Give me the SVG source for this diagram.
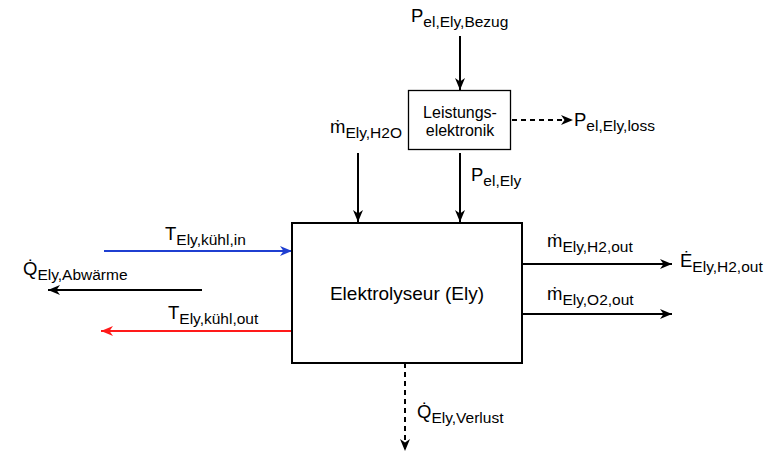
<svg xmlns="http://www.w3.org/2000/svg" width="765" height="463" viewBox="0 0 765 463">
<style>
text{font-family:"Liberation Sans",Arial,"DejaVu Sans",sans-serif;fill:#000}
.lbl{font-size:18.5px}
.sub{font-size:15.5px}
.box{fill:#fff;stroke:#000}
.c{fill:none;stroke-width:2}
.k{stroke:#000}
.dash{stroke-dasharray:5 4}
</style>
<defs>
<marker id="ak" markerUnits="userSpaceOnUse" markerWidth="13" markerHeight="12" viewBox="0 0 13 12" refX="12" refY="6" orient="auto"><path d="M0,1 L12,6 L0,11 L3.5,6 z" fill="#000"/></marker>
<marker id="ab" markerUnits="userSpaceOnUse" markerWidth="13" markerHeight="12" viewBox="0 0 13 12" refX="12" refY="6" orient="auto"><path d="M0,1 L12,6 L0,11 L3.5,6 z" fill="#1f3fd1"/></marker>
<marker id="ar" markerUnits="userSpaceOnUse" markerWidth="13" markerHeight="12" viewBox="0 0 13 12" refX="12" refY="6" orient="auto"><path d="M0,1 L12,6 L0,11 L3.5,6 z" fill="#ff1a1a"/></marker>
</defs>
<g id="connectors">
<path class="c k" d="M460,36 V90" marker-end="url(#ak)"/>
<path class="c k dash" d="M512,120 H573" marker-end="url(#ak)"/>
<path class="c k" d="M358,153 V222" marker-end="url(#ak)"/>
<path class="c k" d="M460,153 V222" marker-end="url(#ak)"/>
<path class="c" stroke="#1f3fd1" d="M104,251 H292" marker-end="url(#ab)"/>
<path class="c k" d="M202,290 H48" marker-end="url(#ak)"/>
<path class="c" stroke="#ff1a1a" d="M292,331 H101" marker-end="url(#ar)"/>
<path class="c k" d="M522,264 H672" marker-end="url(#ak)"/>
<path class="c k" d="M522,314 H672" marker-end="url(#ak)"/>
<path class="c k dash" d="M405,363 V451" marker-end="url(#ak)"/>
</g>
<g id="elektrolyseur">
<rect class="box" x="292" y="223" width="230" height="140" stroke-width="2"/>
<text x="407" y="300" text-anchor="middle" font-size="19px">Elektrolyseur (Ely)</text>
</g>
<g id="leistungselektronik">
<rect class="box" x="408.5" y="90.5" width="102" height="59" stroke-width="1.3"/>
<text x="460" y="118" text-anchor="middle" font-size="16px">Leistungs-</text>
<text x="460" y="136" text-anchor="middle" font-size="16px">elektronik</text>
</g>
<g id="labels">
<text x="411" y="22" class="lbl">P<tspan class="sub" dy="5">el,Ely,Bezug</tspan></text>
<text x="574" y="126" class="lbl">P<tspan class="sub" dy="5">el,Ely,loss</tspan></text>
<text x="330" y="133" class="lbl">ṁ<tspan class="sub" dy="5">Ely,H2O</tspan></text>
<text x="471" y="181" class="lbl">P<tspan class="sub" dy="5">el,Ely</tspan></text>
<text x="165" y="240" class="lbl">T<tspan class="sub" dy="5">Ely,kühl,in</tspan></text>
<text x="23" y="275" class="lbl">Q̇<tspan class="sub" dy="5">Ely,Abwärme</tspan></text>
<text x="168" y="319" class="lbl">T<tspan class="sub" dy="5">Ely,kühl,out</tspan></text>
<text x="547" y="247" class="lbl">ṁ<tspan class="sub" dy="5">Ely,H2,out</tspan></text>
<text x="680" y="267" class="lbl">Ė<tspan class="sub" dy="5">Ely,H2,out</tspan></text>
<text x="547" y="300" class="lbl">ṁ<tspan class="sub" dy="5">Ely,O2,out</tspan></text>
<text x="417" y="418" class="lbl">Q̇<tspan class="sub" dy="5">Ely,Verlust</tspan></text>
</g>
</svg>
